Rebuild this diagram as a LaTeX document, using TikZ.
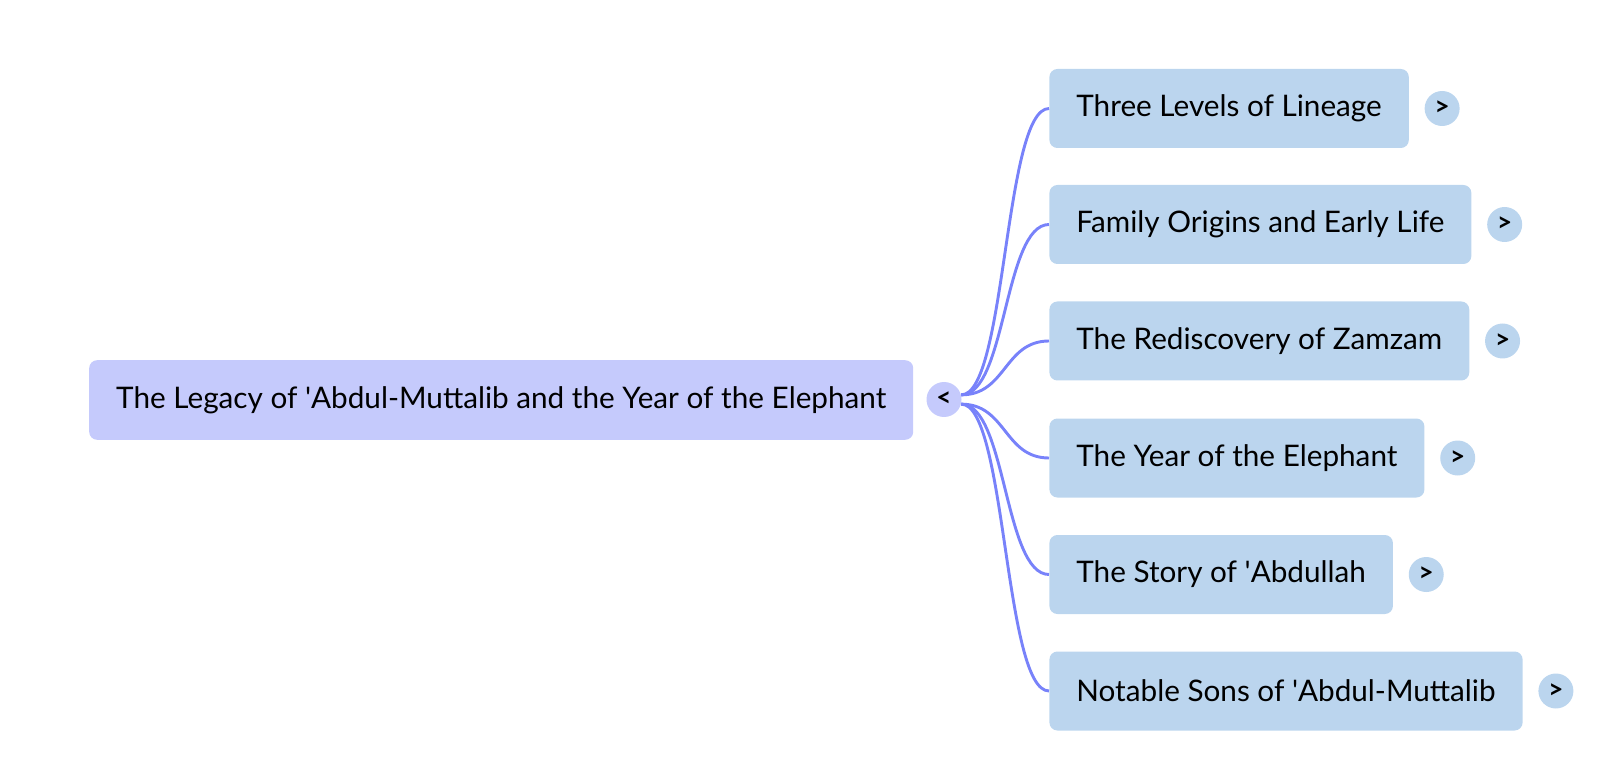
\documentclass[tikz,border=0pt]{standalone}
\usepackage{fontspec}
\setmainfont{Lato}
\usetikzlibrary{positioning}
\definecolor{rootfill}{RGB}{197,202,252}
\definecolor{topicfill}{RGB}{187,213,238}
\definecolor{linkblue}{RGB}{120,130,250}
\newcommand{\ap}{\textquotesingle}

\begin{document}
\begin{tikzpicture}[x=0.5pt,y=-0.5pt,node distance=7.5pt,
  root/.style={fill=rootfill,rounded corners=4pt,minimum height=39.8pt,inner xsep=13.5pt,anchor=west,font=\fontsize{14.85}{17}\selectfont},
  topic/.style={fill=topicfill,rounded corners=4pt,minimum height=39.5pt,inner xsep=13.5pt,anchor=west,font=\fontsize{14.85}{17}\selectfont},
  fold/.style={circle,inner sep=0pt,minimum size=17.5pt,font=\fontsize{13}{15}\selectfont\bfseries},
  link/.style={draw=linkblue,line width=1.45pt}]
\useasboundingbox (0,0) rectangle (1600,764);
% central topic and its fold button
\node[root] (R) at (88.8,400) {The Legacy of \ap Abdul-Muttalib and the Year of the Elephant};
\node[fold,fill=rootfill] (C) at (944,399.5) {<};
% subtopics
\node[topic] (T1) at (1049,108.5) {Three Levels of Lineage};
\node[topic] (T2) at (1049,224.5) {Family Origins and Early Life};
\node[topic] (T3) at (1049,341) {The Rediscovery of Zamzam};
\node[topic] (T4) at (1049,458) {The Year of the Elephant};
\node[topic] (T5) at (1049,574.5) {The Story of \ap Abdullah};
\node[topic] (T6) at (1049,691) {Notable Sons of \ap Abdul-Muttalib};
\node[fold,fill=topicfill,right=of T1] (F1) {>};
\node[fold,fill=topicfill,right=of T2] (F2) {>};
\node[fold,fill=topicfill,right=of T3] (F3) {>};
\node[fold,fill=topicfill,right=of T4] (F4) {>};
\node[fold,fill=topicfill,right=of T5] (F5) {>};
\node[fold,fill=topicfill,right=of T6] (F6) {>};
% branches
\draw[link] (C.15) .. controls +(45,0) and +(-45,0) .. (T1.west);
\draw[link] (C.15) .. controls +(45,0) and +(-45,0) .. (T2.west);
\draw[link] (C.15) .. controls +(45,0) and +(-45,0) .. (T3.west);
\draw[link] (C.-15) .. controls +(45,0) and +(-45,0) .. (T4.west);
\draw[link] (C.-15) .. controls +(45,0) and +(-45,0) .. (T5.west);
\draw[link] (C.-15) .. controls +(45,0) and +(-45,0) .. (T6.west);
\end{tikzpicture}
\end{document}
